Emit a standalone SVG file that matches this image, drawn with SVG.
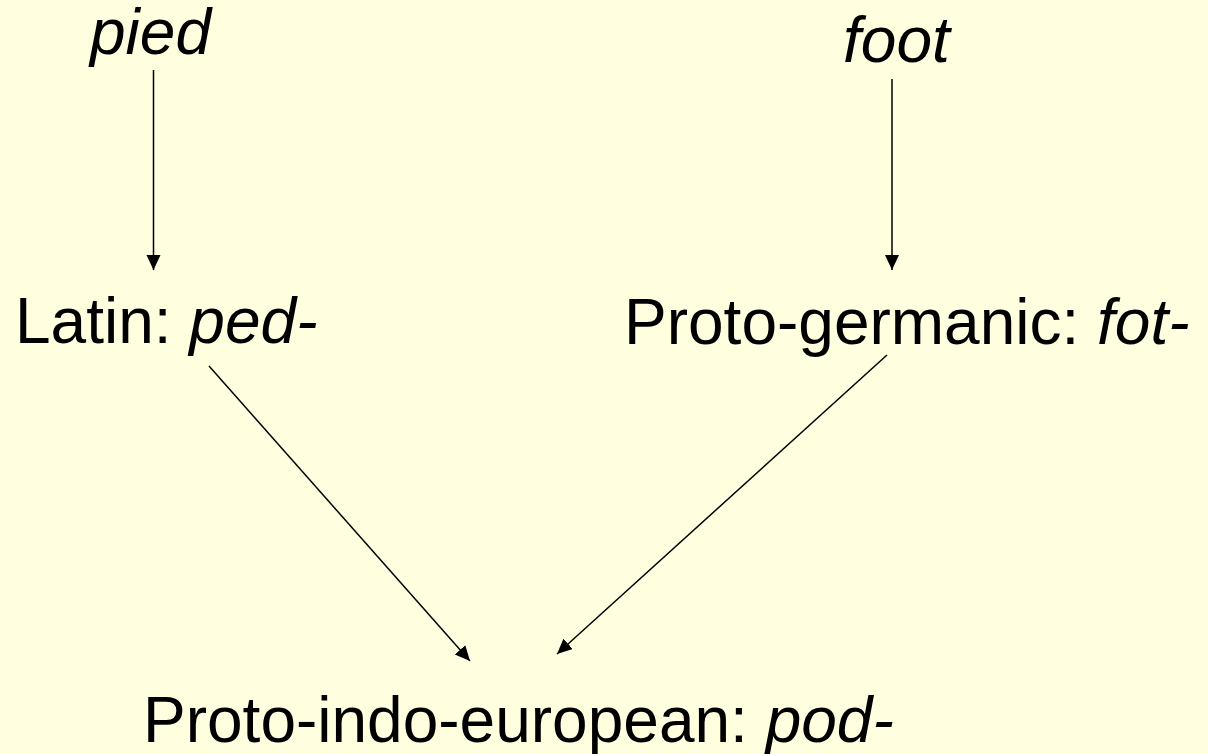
<svg xmlns="http://www.w3.org/2000/svg" width="1208" height="754" viewBox="0 0 1208 754">
<style>
  text { font-family: "Liberation Sans", Arial, sans-serif; font-size: 64px; fill: #000; }
  .it { font-style: italic; }
  .conn line { stroke: #000; stroke-width: 1.5; fill: none; marker-end: url(#arrow); }
</style>
<defs>
  <marker id="arrow" markerUnits="userSpaceOnUse" markerWidth="16" markerHeight="15" refX="15" refY="7" orient="auto">
    <path d="M0,0 L15,7 L0,14 Z" fill="#000"/>
  </marker>
</defs>
<rect x="0" y="0" width="1208" height="754" fill="#FFFFE0"/>
<g id="node-pied"><text x="90" y="54" class="it">pied</text></g>
<g id="node-foot"><text x="843" y="62" class="it">foot</text></g>
<g id="node-latin"><text x="15" y="343">Latin: <tspan class="it">ped-</tspan></text></g>
<g id="node-protogermanic"><text x="624" y="344">Proto-germanic: <tspan class="it">fot-</tspan></text></g>
<g id="node-pie"><text x="143" y="742">Proto-indo-european: <tspan class="it">pod-</tspan></text></g>
<g id="connectors" class="conn">
  <line x1="153.5" y1="70" x2="153.5" y2="270"/>
  <line x1="892" y1="79" x2="892" y2="270"/>
  <line x1="209" y1="366" x2="470" y2="661"/>
  <line x1="887" y1="355" x2="557" y2="654"/>
</g>
</svg>
